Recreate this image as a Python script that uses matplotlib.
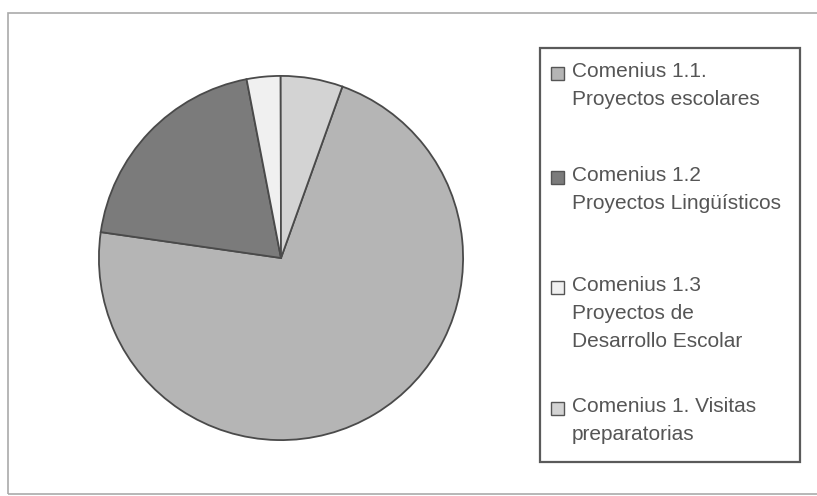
import matplotlib
matplotlib.use("Agg")
import matplotlib.pyplot as plt
from matplotlib.patches import Rectangle

labels = ["Comenius 1.1.\nProyectos escolares",
          "Comenius 1.2\nProyectos Lingüísticos",
          "Comenius 1.3\nProyectos de\nDesarrollo Escolar",
          "Comenius 1. Visitas\npreparatorias"]
values = [71.8, 19.7, 3.0, 5.5]
colors = ["#b5b5b5", "#7b7b7b", "#f0f0f0", "#d3d3d3"]

W, H = 817, 496
fig = plt.figure(figsize=(W / 100, H / 100), dpi=100)
plt.rcParams['font.family'] = ['Liberation Sans', 'DejaVu Sans']

# outer frame
fig.add_artist(Rectangle((8 / W, 2 / H), 1.2, (H - 15) / H, transform=fig.transFigure,
                         fill=False, edgecolor="#aaaaaa", lw=1.2))

ax = fig.add_axes([98 / W, 55 / H, 366 / W, 366 / H])
wedges, _ = ax.pie(values, colors=colors, startangle=90 - 19.7, counterclock=False,
                   wedgeprops=dict(edgecolor="#4a4a4a", linewidth=1.3))
ax.set_xlim(-1.005, 1.005)
ax.set_ylim(-1.005, 1.005)
ax.set_aspect("equal")

# legend box
fig.add_artist(Rectangle((540 / W, (H - 462) / H), 260 / W, 414 / H, transform=fig.transFigure,
                         fill=False, edgecolor="#5a5a5a", lw=1.6))

tops = [73, 177, 287, 408]
for w, lab, y in zip(wedges, labels, tops):
    fig.add_artist(Rectangle((551 / W, (H - y - 7) / H), 13 / W, 13 / H,
                             transform=fig.transFigure, facecolor=w.get_facecolor(),
                             edgecolor="#555555", lw=1))
    fig.text(572 / W, (H - y + 11) / H, lab, fontsize=15, color="#555555",
             va="top", ha="left", linespacing=1.6)

fig.savefig("out.png", dpi=100, facecolor="white")
